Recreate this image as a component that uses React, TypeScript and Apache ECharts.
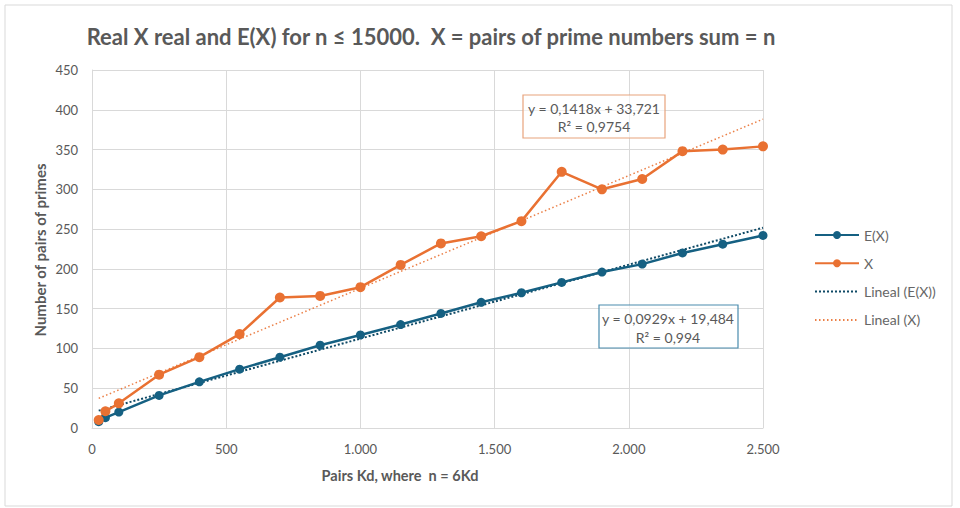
import React, { useEffect, useRef } from "react";
import * as echarts from "echarts";

const kd = [25, 50, 100, 250, 400, 550, 700, 850, 1000, 1150, 1300, 1450, 1600, 1750, 1900, 2050, 2200, 2350, 2500];
const expectedX = [8, 13, 20, 41, 58, 74, 89, 104, 117, 130, 144, 158, 170, 183, 196, 206, 220, 231, 242];
const realX = [10, 21, 31, 67, 89, 118, 164, 166, 177, 205, 232, 241, 260, 322, 300, 313, 348, 350, 354];

// trendline coefficients as printed on the chart
const trendE = { slope: 0.0929, intercept: 19.484, label: "y = 0,0929x + 19,484", r2: "R² = 0,994" };
const trendX = { slope: 0.1418, intercept: 33.721, label: "y = 0,1418x + 33,721", r2: "R² = 0,9754" };

const yTicks = { min: 0, max: 450, interval: 50 };
const xTicks = { min: 0, max: 2500, interval: 500 };

const BLUE = "#156082";
const BLUE_TREND = "#0f4a66";
const ORANGE = "#e97132";
const TXT = "#595959";
const FONT = "Lato, 'Noto Sans', sans-serif";

function trendPoints(t: { slope: number; intercept: number }) {
  const x0 = kd[0];
  const x1 = kd[kd.length - 1];
  return [
    [x0, t.slope * x0 + t.intercept],
    [x1, t.slope * x1 + t.intercept],
  ];
}

export default function App() {
  const ref = useRef<HTMLDivElement>(null);
  useEffect(() => {
    document.body.style.margin = "0";
    if (!ref.current) return;
    const chart = echarts.init(ref.current, null, { renderer: "svg" });
    chart.setOption({
      animation: false,
      backgroundColor: "#ffffff",
      textStyle: { fontFamily: FONT },
      grid: { left: 92, right: 197, top: 70, bottom: 80 },
      legend: {
        orient: "vertical",
        left: 809,
        top: 223,
        itemWidth: 44,
        itemHeight: 10,
        itemGap: 14.3,
        textStyle: { color: "#666666", fontSize: 14, lineHeight: 14, fontFamily: FONT },
        data: [
          { name: "E(X)" },
          { name: "X" },
          { name: "Lineal (E(X))", itemStyle: { opacity: 0 } },
          { name: "Lineal (X)", itemStyle: { opacity: 0 } },
        ],
      },
      xAxis: {
        type: "value",
        min: xTicks.min,
        max: xTicks.max,
        interval: xTicks.interval,
        axisLine: { show: true, lineStyle: { color: "#d9d9d9" } },
        axisTick: { show: false },
        axisLabel: {
          color: TXT,
          fontSize: 13,
          margin: 14,
          formatter: (v: number) => String(v).replace(/\B(?=(\d{3})+(?!\d))/g, "."),
        },
        splitLine: { show: true, lineStyle: { color: "#d9d9d9" } },
      },
      yAxis: {
        type: "value",
        min: yTicks.min,
        max: yTicks.max,
        interval: yTicks.interval,
        axisLine: { show: true, lineStyle: { color: "#d9d9d9" } },
        axisTick: { show: false },
        axisLabel: { color: TXT, fontSize: 13, margin: 14 },
        splitLine: { show: true, lineStyle: { color: "#d9d9d9" } },
      },
      series: [
        {
          name: "Lineal (E(X))",
          type: "line",
          data: trendPoints(trendE),
          symbol: "none",
          color: BLUE_TREND,
          lineStyle: { color: BLUE_TREND, width: 2, type: [2, 2] },
          z: 3,
        },
        {
          name: "Lineal (X)",
          type: "line",
          data: trendPoints(trendX),
          symbol: "none",
          color: ORANGE,
          lineStyle: { color: ORANGE, width: 1.5, type: [1.5, 2.5], opacity: 0.9 },
          z: 3,
        },
        {
          name: "E(X)",
          type: "line",
          data: kd.map((x, i) => [x, expectedX[i]]),
          symbol: "circle",
          symbolSize: 9,
          color: BLUE,
          lineStyle: { color: BLUE, width: 2.5 },
          itemStyle: { color: BLUE },
          z: 4,
        },
        {
          name: "X",
          type: "line",
          data: kd.map((x, i) => [x, realX[i]]),
          symbol: "circle",
          symbolSize: 10,
          color: ORANGE,
          lineStyle: { color: ORANGE, width: 2.5 },
          itemStyle: { color: ORANGE },
          z: 4,
        },
      ],
      graphic: [
        {
          type: "rect",
          shape: { x: 5, y: 5, width: 947, height: 501 },
          style: { fill: "none", stroke: "#d9d9d9", lineWidth: 1 },
          silent: true,
        },
        {
          type: "text",
          x: 431,
          y: 36,
          style: {
            text: "Real X real and E(X) for n ≤ 15000.  X = pairs of prime numbers sum = n",
            fill: TXT,
            font: `bold 22px ${FONT}`,
            textAlign: "center",
            textVerticalAlign: "middle",
          },
        },
        {
          type: "text",
          x: 40,
          y: 250,
          rotation: Math.PI / 2,
          style: {
            text: "Number of pairs of primes",
            fill: TXT,
            font: `bold 15px ${FONT}`,
            textAlign: "center",
            textVerticalAlign: "middle",
          },
        },
        {
          type: "text",
          x: 400,
          y: 475,
          style: {
            text: "Pairs Kd, where  n = 6Kd",
            fill: TXT,
            font: `bold 14.5px ${FONT}`,
            textAlign: "center",
            textVerticalAlign: "middle",
          },
        },
        {
          type: "group",
          children: [
            {
              type: "rect",
              shape: { x: 523, y: 95, width: 142, height: 43 },
              style: { fill: "rgba(255,255,255,0.6)", stroke: "#e8a37c", lineWidth: 1.2 },
              z: 10,
            },
            {
              type: "text",
              x: 594,
              y: 108,
              z: 11,
              style: { text: trendX.label, fill: TXT, font: `14px ${FONT}`, textAlign: "center", textVerticalAlign: "middle" },
            },
            {
              type: "text",
              x: 594,
              y: 126,
              z: 11,
              style: { text: trendX.r2, fill: TXT, font: `14px ${FONT}`, textAlign: "center", textVerticalAlign: "middle" },
            },
          ],
        },
        {
          type: "group",
          children: [
            {
              type: "rect",
              shape: { x: 599, y: 305, width: 139, height: 43 },
              style: { fill: "rgba(255,255,255,0.6)", stroke: "#4a8cae", lineWidth: 1.2 },
              z: 10,
            },
            {
              type: "text",
              x: 668,
              y: 318,
              z: 11,
              style: { text: trendE.label, fill: TXT, font: `14px ${FONT}`, textAlign: "center", textVerticalAlign: "middle" },
            },
            {
              type: "text",
              x: 668,
              y: 337,
              z: 11,
              style: { text: trendE.r2, fill: TXT, font: `14px ${FONT}`, textAlign: "center", textVerticalAlign: "middle" },
            },
          ],
        },
      ],
    });
    return () => chart.dispose();
  }, []);
  return <div ref={ref} style={{ width: 960, height: 508 }} />;
}
